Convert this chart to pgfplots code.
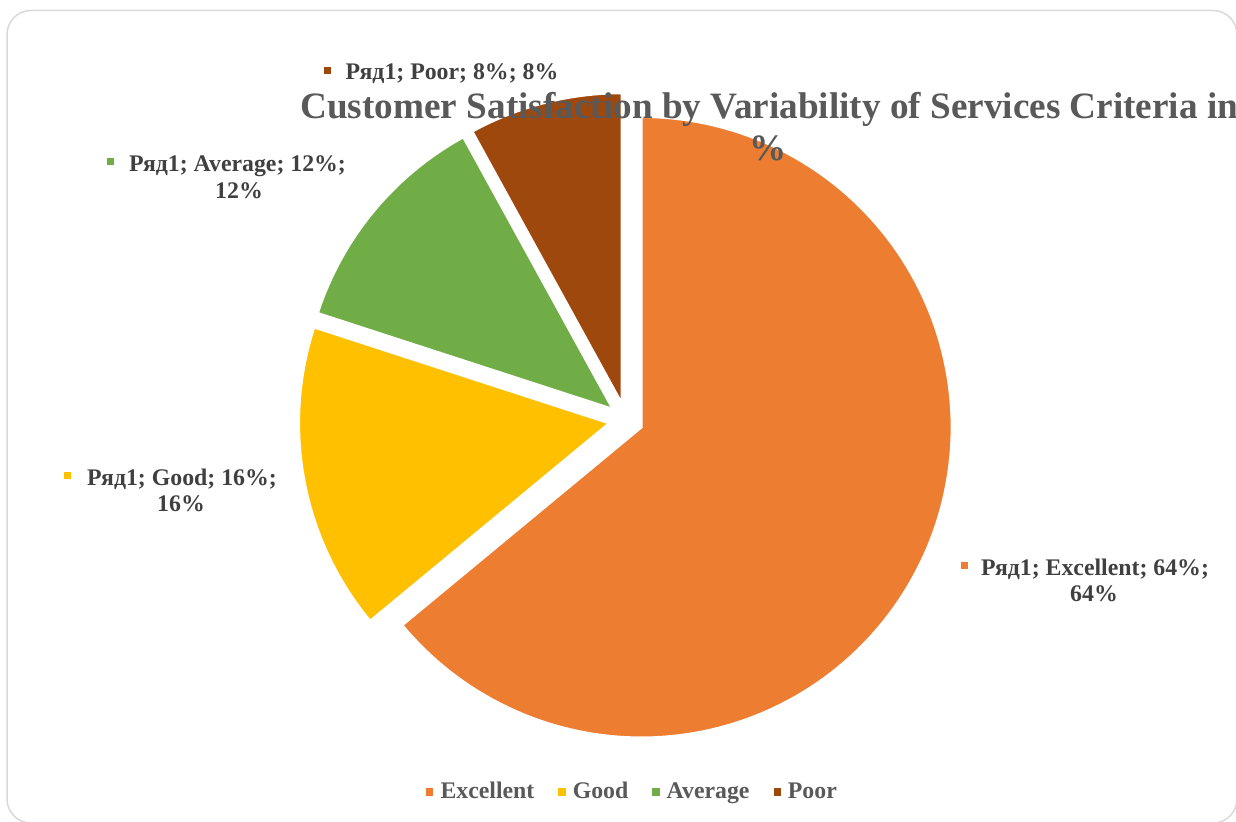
\documentclass[border=0pt]{standalone}
\usepackage{pgfplots}
\usepackage{pgfplotstable}
\pgfplotsset{compat=1.18}
\usepackage{fontspec}
\setmainfont{Liberation Serif}
\definecolor{cE}{HTML}{ED7D31}
\definecolor{cG}{HTML}{FFC000}
\definecolor{cA}{HTML}{70AD47}
\definecolor{cP}{HTML}{9E480E}
\definecolor{titlegray}{HTML}{595959}
\definecolor{labelgray}{HTML}{404040}
\definecolor{bordergray}{HTML}{D9D9D9}

\pgfplotstableread{
name value
Excellent 64
Good 16
Average 12
Poor 8
}\piedata

\begin{document}
\begin{tikzpicture}
\useasboundingbox (0,0) rectangle (618pt,411pt);
\pgfplotstablegetelem{0}{value}\of\piedata \pgfmathsetmacro\vE{\pgfplotsretval}
\pgfplotstablegetelem{1}{value}\of\piedata \pgfmathsetmacro\vG{\pgfplotsretval}
\pgfplotstablegetelem{2}{value}\of\piedata \pgfmathsetmacro\vA{\pgfplotsretval}
\pgfplotstablegetelem{3}{value}\of\piedata \pgfmathsetmacro\vP{\pgfplotsretval}
\pgfmathsetmacro\aE{90-3.6*\vE}
\pgfmathsetmacro\aG{\aE-3.6*\vG}
\pgfmathsetmacro\aA{\aG-3.6*\vA}
\pgfmathsetmacro\aP{\aA-3.6*\vP}
\def\cx{626}\def\cy{420}\def\dd{17}\def\R{310.5}
\pgfmathsetmacro\mE{(90+\aE)/2}
\pgfmathsetmacro\mG{(\aE+\aG)/2}
\pgfmathsetmacro\mA{(\aG+\aA)/2}
\pgfmathsetmacro\mP{(\aA+\aP)/2}
\pgfmathsetmacro\xE{\cx+\dd*cos(\mE)}\pgfmathsetmacro\yE{\cy-\dd*sin(\mE)}
\pgfmathsetmacro\xG{\cx+\dd*cos(\mG)}\pgfmathsetmacro\yG{\cy-\dd*sin(\mG)}
\pgfmathsetmacro\xA{\cx+\dd*cos(\mA)}\pgfmathsetmacro\yA{\cy-\dd*sin(\mA)}
\pgfmathsetmacro\xP{\cx+\dd*cos(\mP)}\pgfmathsetmacro\yP{\cy-\dd*sin(\mP)}
\begin{axis}[
  at={(0,0)}, anchor=south west,
  width=618pt, height=411pt, scale only axis,
  xmin=0, xmax=1236, ymin=0, ymax=822, y dir=reverse,
  axis lines=none, clip=false,
  legend columns=4,
  legend style={draw=none, fill=none, at={(0.5109,0.0365)}, anchor=center,
    font=\fontsize{11.9}{14}\selectfont\bfseries, text=titlegray,
    /tikz/every odd column/.append style={column sep=3.6pt},
    /tikz/every even column/.append style={column sep=12pt},
    nodes={inner sep=0pt}},
  legend image code/.code={\fill[#1, draw=none] (0pt,-1.8pt) rectangle (3.6pt,1.8pt);},
]
\addplot[fill=cE, draw=white, line width=1.25pt, domain=\aE:90, samples=150, variable=\t]
  ({\xE+\R*cos(\t)}, {\yE-\R*sin(\t)}) -- (axis cs:\xE,\yE) -- cycle;
\addlegendentry{Excellent}
\addplot[fill=cG, draw=white, line width=1.25pt, domain=\aG:\aE, samples=60, variable=\t]
  ({\xG+\R*cos(\t)}, {\yG-\R*sin(\t)}) -- (axis cs:\xG,\yG) -- cycle;
\addlegendentry{Good}
\addplot[fill=cA, draw=white, line width=1.25pt, domain=\aA:\aG, samples=50, variable=\t]
  ({\xA+\R*cos(\t)}, {\yA-\R*sin(\t)}) -- (axis cs:\xA,\yA) -- cycle;
\addlegendentry{Average}
\addplot[fill=cP, draw=white, line width=1.25pt, domain=\aP:\aA, samples=40, variable=\t]
  ({\xP+\R*cos(\t)}, {\yP-\R*sin(\t)}) -- (axis cs:\xP,\yP) -- cycle;
\addlegendentry{Poor}
\end{axis}
\begin{scope}[x=0.5pt, y=-0.5pt, shift={(0,411pt)}]
  \draw[bordergray, line width=0.75pt, rounded corners=12pt] (7,10.5) rectangle (1237,823);
  % title
  \begin{scope}[every node/.style={font=\fontsize{18.6}{22}\selectfont\bfseries, text=titlegray, inner sep=0pt}]
    \node[anchor=base west] at (300,119) {Customer Satisfaction by Variability of Services Criteria in};
    \node[anchor=base] at (768,161) {\%};
  \end{scope}
  % data labels
  \begin{scope}[every node/.style={font=\fontsize{11.9}{14}\selectfont\bfseries, text=labelgray, inner sep=0pt, anchor=base}]
    \fill[cE] (960.5,562.5) rectangle (967.5,569.5);
    \node at (1095,576) {Ряд1; Excellent; 64\%;};
    \node at (1094,602) {64\%};
    \fill[cG] (63.5,472.5) rectangle (70.5,479.5);
    \node at (182,485.7) {Ряд1; Good; 16\%;};
    \node at (181,511.7) {16\%};
    \fill[cA] (107,158.3) rectangle (114,165.3);
    \node at (237.5,171.7) {Ряд1; Average; 12\%;};
    \node at (239,198.3) {12\%};
    \fill[cP] (323.5,67.5) rectangle (330.5,74.5);
    \node at (452,80) {Ряд1; Poor; 8\%; 8\%};
  \end{scope}
\end{scope}
\end{tikzpicture}
\end{document}
